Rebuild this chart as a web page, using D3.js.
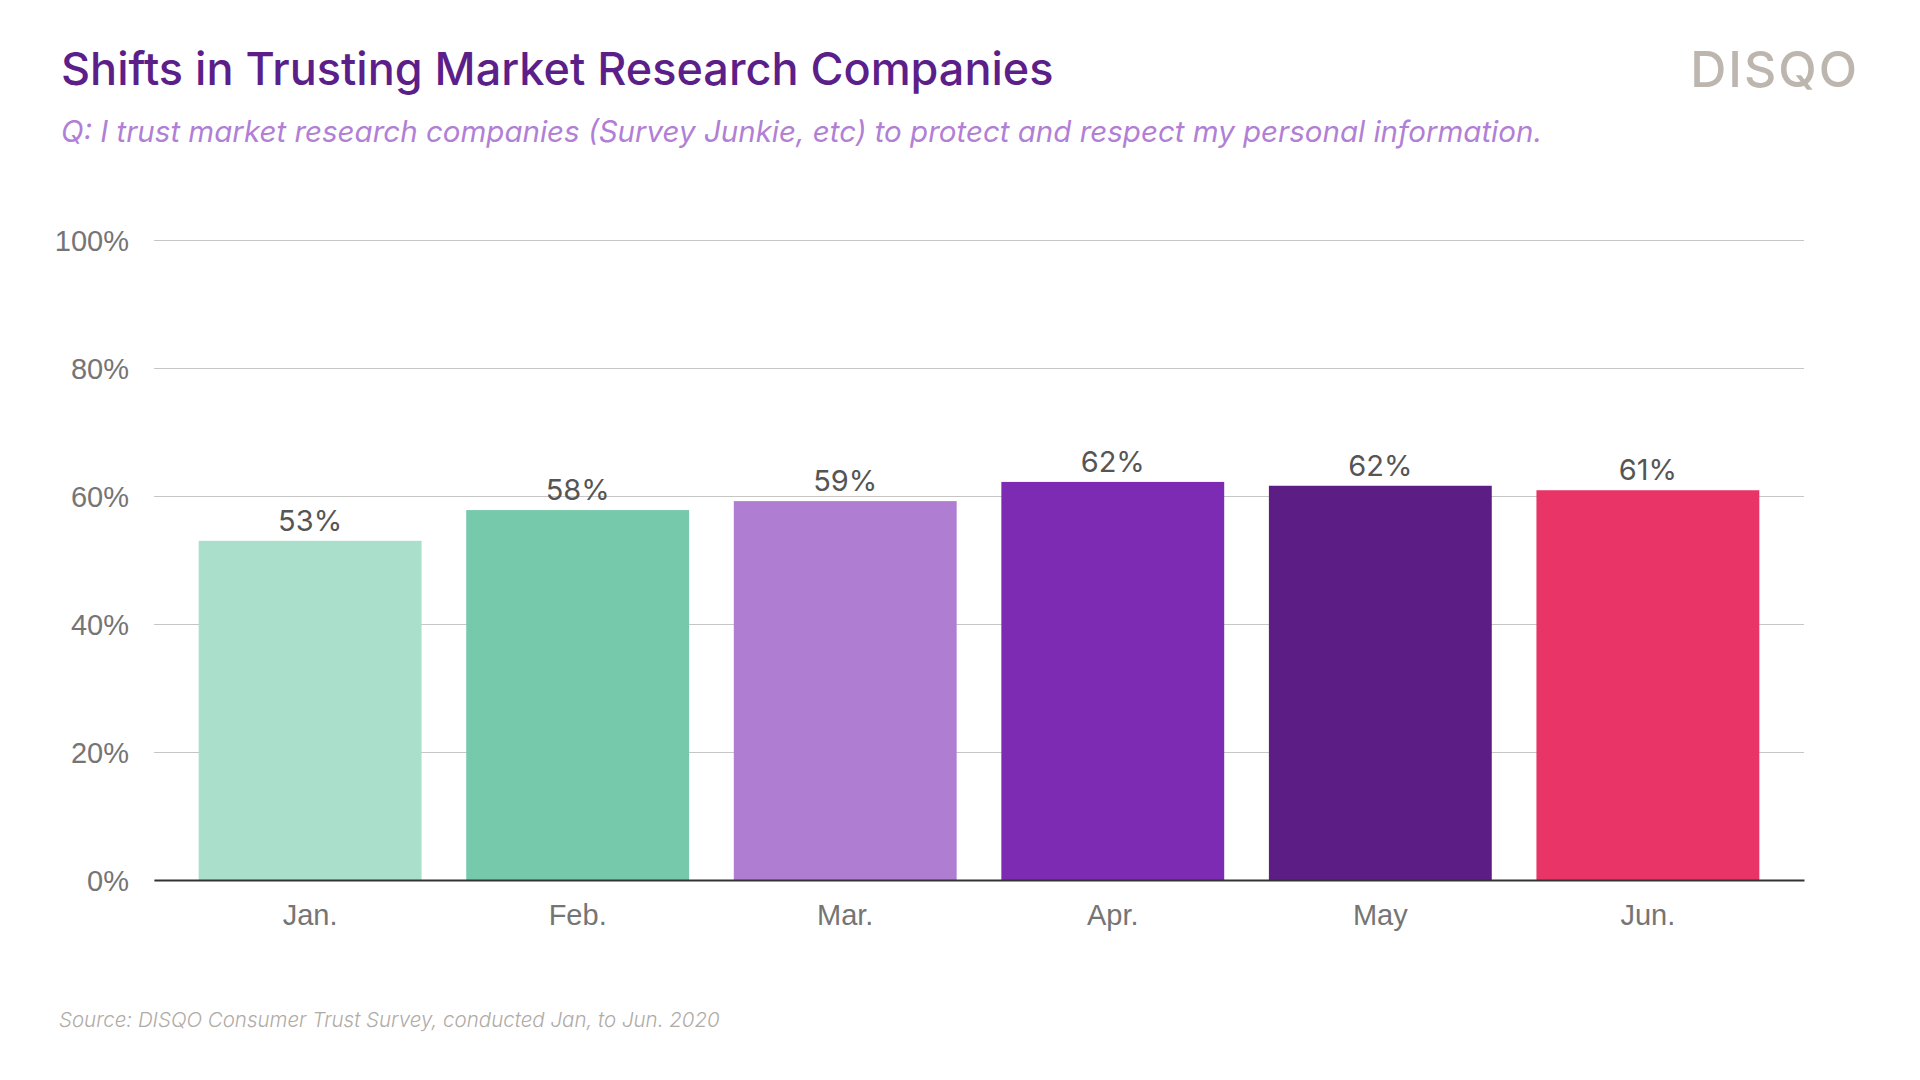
<!DOCTYPE html>
<html>
<head>
<meta charset="utf-8">
<script src="https://cdn.jsdelivr.net/npm/d3@7"></script>
<style>
  body { margin: 0; background: #fff; }
  svg { display: block; font-family: Inter, Lato, sans-serif; }
</style>
</head>
<body>
<div id="chart"></div>
<script>
// chart data
const months = ["Jan.", "Feb.", "Mar.", "Apr.", "May", "Jun."];
const trustShare = [53.0, 57.8, 59.2, 62.2, 61.6, 60.9];
const barColors = ["#aadfcc", "#77c9ac", "#af7ed2", "#7d2bb3", "#5c1e84", "#e83467"];
const yTicks = [0, 20, 40, 60, 80, 100];

const width = 1920,
  height = 1080;
const margin = { top: 240, right: 116, bottom: 200, left: 154 };

const svg = d3
  .select("#chart")
  .append("svg")
  .attr("width", width)
  .attr("height", height);

// scales
const x = d3
  .scaleBand()
  .domain(months)
  .range([margin.left, width - margin.right])
  .paddingInner(0.167)
  .paddingOuter(0.167);

const y = d3
  .scaleLinear()
  .domain([0, 100])
  .range([height - margin.bottom, margin.top]);

// gridlines + y labels
const yAxis = svg
  .append("g")
  .attr("transform", `translate(${margin.left},0)`)
  .call(
    d3
      .axisLeft(y)
      .tickValues(yTicks)
      .tickSize(-(width - margin.left - margin.right))
      .tickPadding(25)
      .tickFormat((d) => d + "%")
  );
yAxis.select(".domain").remove();
yAxis.selectAll(".tick line").attr("stroke", "#c6c6c6").attr("stroke-width", 1);
yAxis
  .selectAll(".tick text")
  .attr("fill", "#757575")
  .style("font-size", "29px")
  .style("font-weight", 300)
  .attr("dy", "0.36em");

// bars
svg
  .selectAll("rect.bar")
  .data(months)
  .enter()
  .append("rect")
  .attr("class", "bar")
  .attr("x", (d) => x(d))
  .attr("width", x.bandwidth())
  .attr("y", (d, i) => y(trustShare[i]))
  .attr("height", (d, i) => y(0) - y(trustShare[i]))
  .attr("fill", (d, i) => barColors[i]);

// value labels
svg
  .selectAll("text.value")
  .data(months)
  .enter()
  .append("text")
  .attr("class", "value")
  .attr("x", (d) => x(d) + x.bandwidth() / 2)
  .attr("y", (d, i) => y(trustShare[i]) - 10)
  .attr("text-anchor", "middle")
  .attr("fill", "#555")
  .style("font-size", "29px")
  .style("font-weight", 400)
  .text((d, i) => Math.round(trustShare[i]) + "%");

// x axis baseline + month labels
const xAxis = svg
  .append("g")
  .attr("transform", `translate(0,${y(0)})`)
  .call(d3.axisBottom(x).tickSize(0).tickPadding(24));
xAxis.select(".domain").attr("stroke", "#333").attr("stroke-width", 2);
xAxis
  .selectAll(".tick text")
  .attr("fill", "#757575")
  .style("font-size", "29px")
  .style("font-weight", 300);

// title block
svg
  .append("text")
  .attr("x", 61)
  .attr("y", 85)
  .attr("fill", "#5c1f8a")
  .style("font-size", "45px")
  .style("font-weight", 500)
  .text("Shifts in Trusting Market Research Companies");

svg
  .append("text")
  .attr("x", 61)
  .attr("y", 142)
  .attr("fill", "#b17fd6")
  .style("font-size", "29.5px")
  .style("font-style", "italic")
  .style("font-weight", 400)
  .text(
    "Q: I trust market research companies (Survey Junkie, etc) to protect and respect my personal information."
  );

// logo
svg
  .append("text")
  .attr("x", 1859)
  .attr("y", 87)
  .attr("text-anchor", "end")
  .attr("fill", "#bdb6ae")
  .style("font-size", "50px")
  .style("font-weight", 500)
  .style("letter-spacing", "2px")
  .text("DISQO");

// source note
svg
  .append("text")
  .attr("x", 59)
  .attr("y", 1027)
  .attr("fill", "#b0aba6")
  .style("font-size", "20.5px")
  .style("font-style", "italic")
  .style("font-weight", 300)
  .text("Source: DISQO Consumer Trust Survey, conducted Jan, to Jun. 2020");
</script>
</body>
</html>
